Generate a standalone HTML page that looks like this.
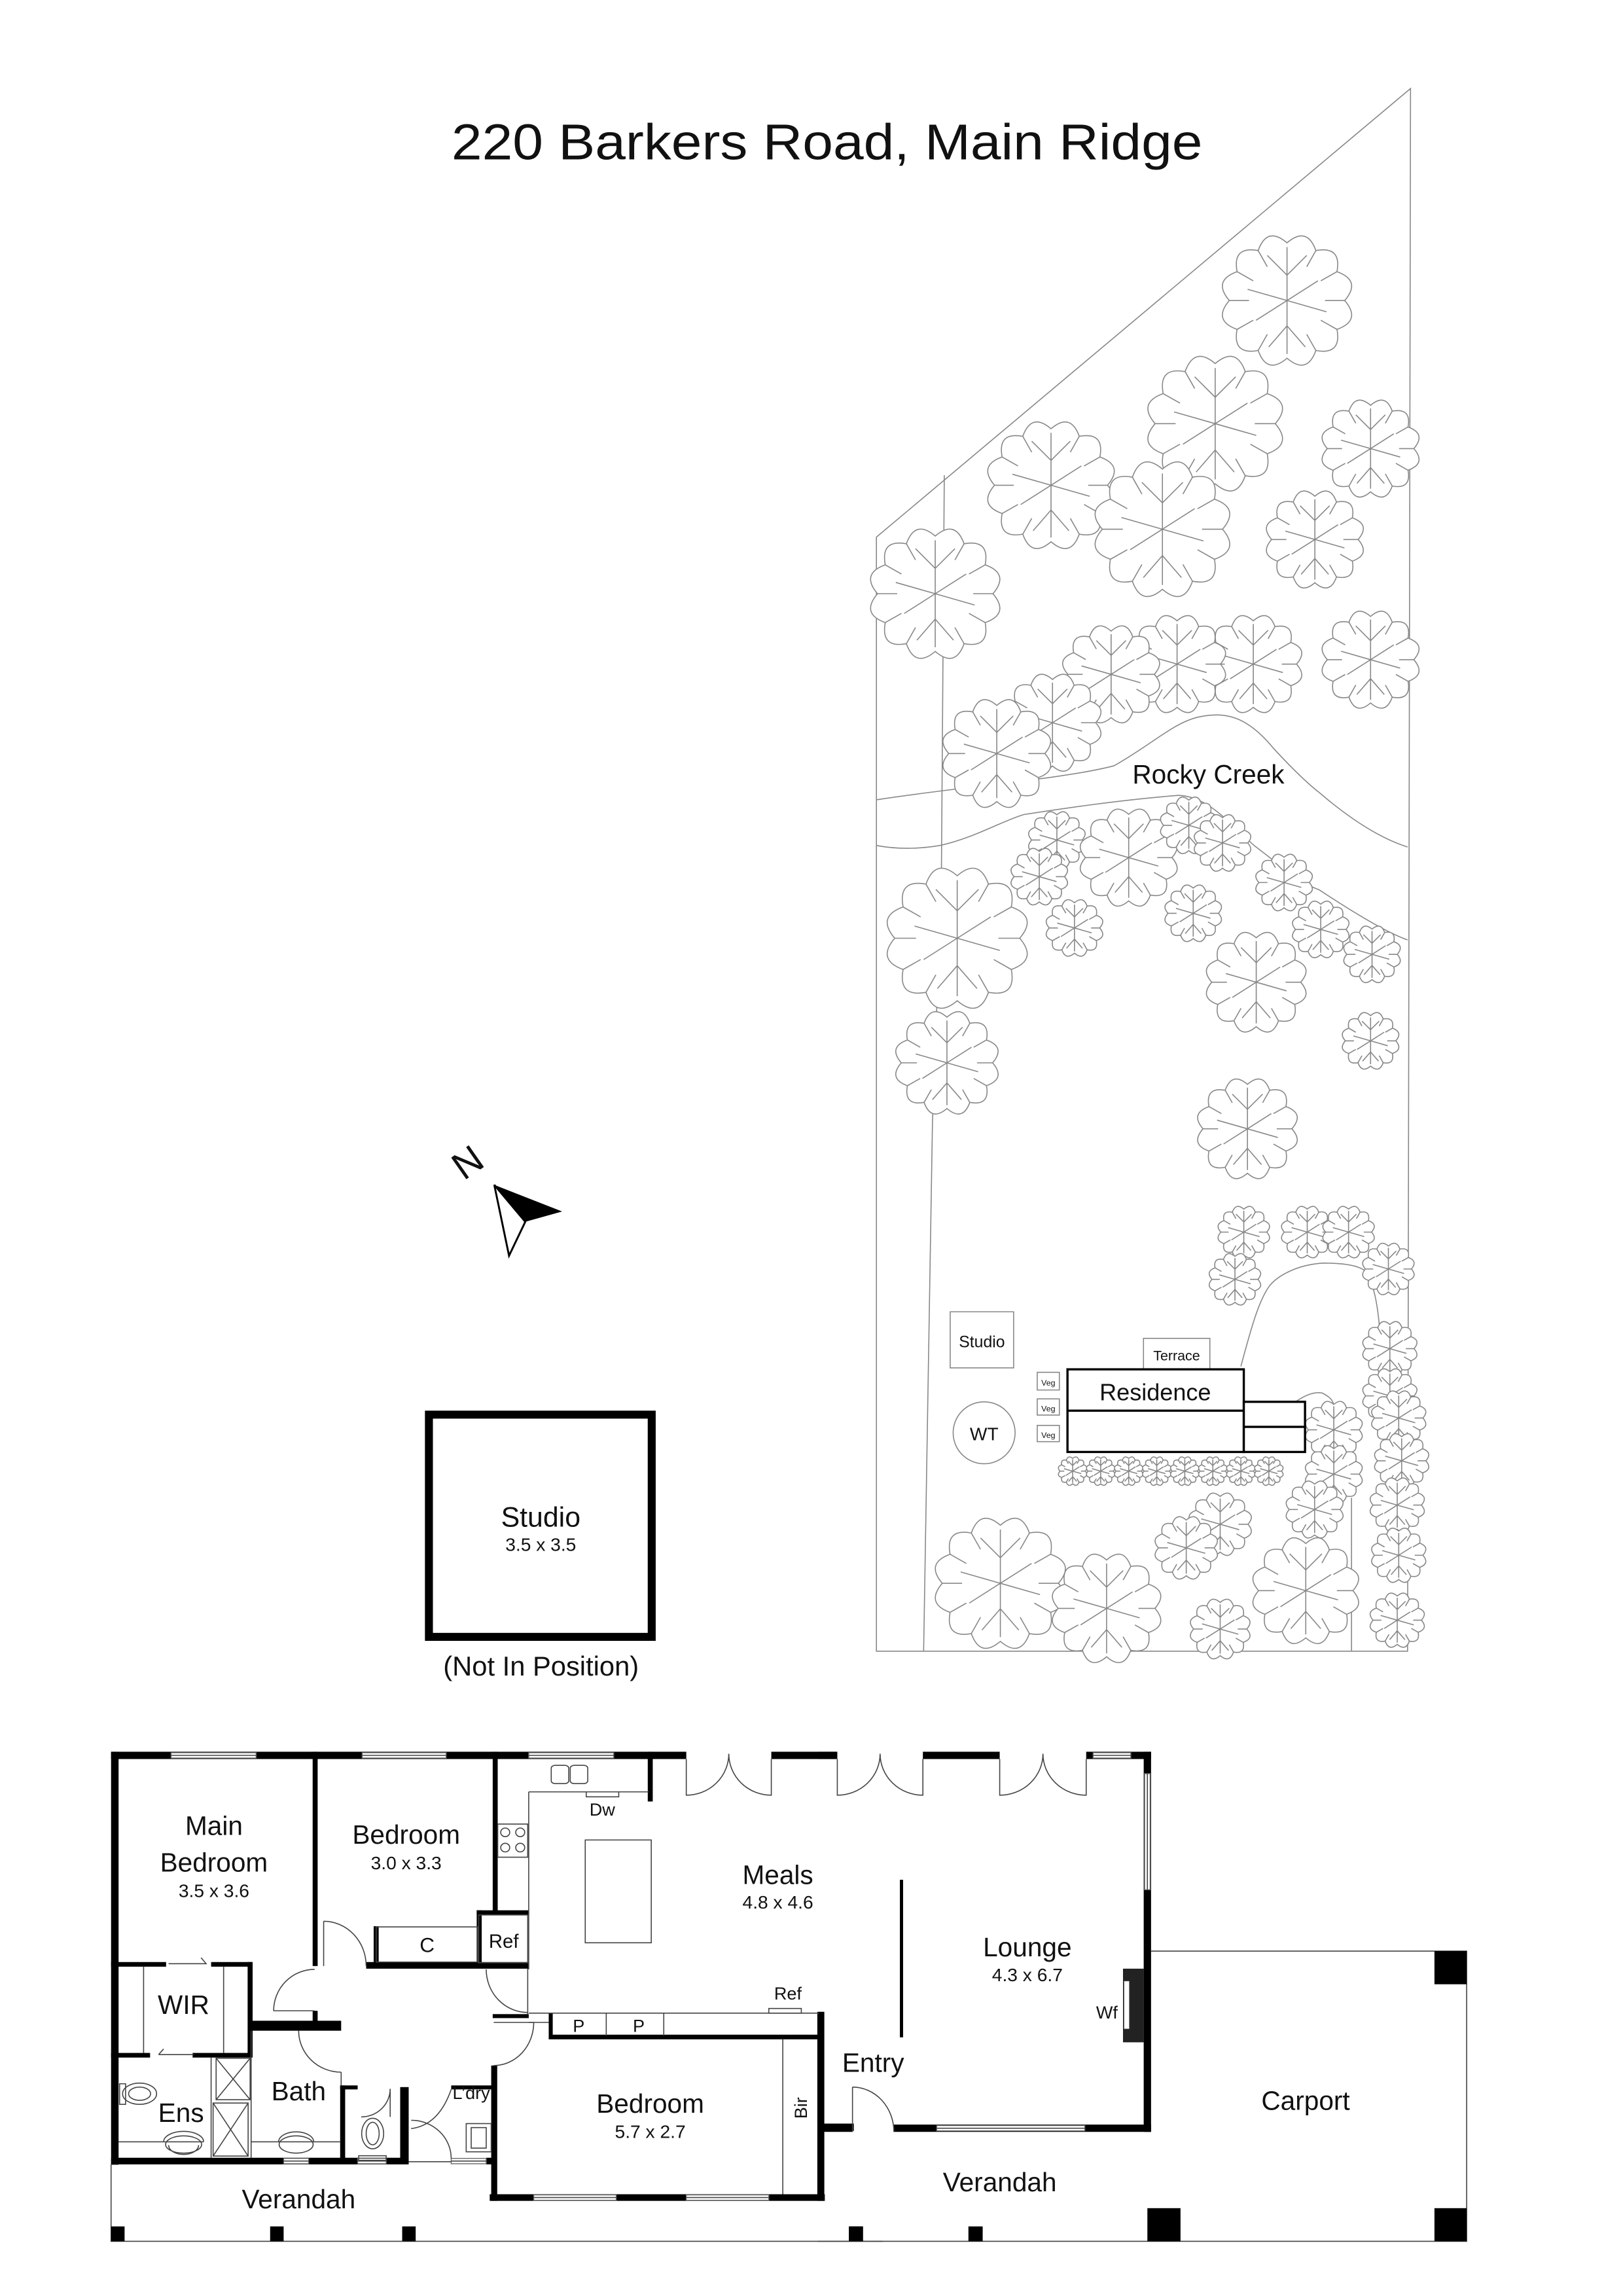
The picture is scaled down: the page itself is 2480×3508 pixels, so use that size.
<!DOCTYPE html>
<html><head><meta charset="utf-8"><style>
html,body{margin:0;padding:0;background:#fff;}
svg{display:block;}
text{font-family:"Liberation Sans",sans-serif;fill:#111;}
.t{fill:none;stroke:#444;stroke-width:1.6;vector-effect:non-scaling-stroke;}
.g{fill:none;stroke:#888;stroke-width:1.6;vector-effect:non-scaling-stroke;}
.w{fill:#fff;stroke:#666;stroke-width:1.4;vector-effect:non-scaling-stroke;}
.k{fill:#000;}
</style></head><body>
<svg width="2480" height="3508" viewBox="0 0 1100 1556" xmlns="http://www.w3.org/2000/svg">
<defs>
<g id="tr">
<path d="M41,0 Q53.1,14.2 35.5,20.5 Q38.9,38.9 20.5,35.5 Q14.2,53.1 0,41 Q-14.2,53.1 -20.5,35.5 Q-38.9,38.9 -35.5,20.5 Q-53.1,14.2 -41,0 Q-53.1,-14.2 -35.5,-20.5 Q-38.9,-38.9 -20.5,-35.5 Q-14.2,-53.1 0,-41 Q14.2,-53.1 20.5,-35.5 Q38.9,-38.9 35.5,-20.5 Q53.1,-14.2 41,0 Z" fill="#fff" stroke="#888" stroke-width="1.6" vector-effect="non-scaling-stroke"/>
<path d="M41,0 L27,0 M35.5,20.5 L24,14 M20.5,35.5 L14,24 M-20.5,35.5 L-14,24 M-35.5,20.5 L-24,14 M-41,0 L-27,0 M-35.5,-20.5 L-24,-14 M-20.5,-35.5 L-14,-24 M20.5,-35.5 L14,-24 M35.5,-20.5 L24,-14 M0,-38 L0,38 M0,0 L-28,-8 M0,0 L28,8 M0,-18 L-14,-32 M0,-18 L14,-32 M0,18 L-13,33 M0,18 L13,33 M0,0 L-22,14 M0,0 L22,-14" fill="none" stroke="#888" stroke-width="1.6" vector-effect="non-scaling-stroke"/>
</g>
</defs>

<!-- Title -->
<text x="306" y="108" font-size="34" textLength="509" lengthAdjust="spacingAndGlyphs">220 Barkers Road, Main Ridge</text>

<!-- Site boundary -->
<path class="g" d="M594,364 L956,60 L954,1119 L594,1119 Z"/>
<path class="g" d="M640,322 L638,600 L632,760 L626,1119"/>
<!-- creek -->
<path class="g" d="M594,542 C660,532 720,528 755,519 C780,505 795,490 812,486 C830,482 845,485 863,507 C875,520 885,530 894,537 C915,555 935,568 954,574"/>
<path class="g" d="M594,573 C610,576 625,575 637,573 C660,568 680,556 694,552 C720,548 760,542 799,539 C820,540 835,560 850,573 C870,588 880,598 894,603 C920,620 940,632 954,637"/>
<!-- driveway -->
<path class="g" d="M841,926 C848,900 853,882 860,872 C866,864 880,857 897,856 C912,856 922,858 926,862 C932,872 934,888 935,900"/>
<path class="g" d="M878,950 C884,946 890,943 896,944 C900,946 903,948 904,952"/>
<path class="g" d="M916,1015 L916,1119"/>

<!-- trees -->
<g transform="scale(0.9935)">
<use href="#tr" transform="translate(878,205) scale(0.96)"/>
<use href="#tr" transform="translate(935,306) scale(0.72)"/>
<use href="#tr" transform="translate(829,289) scale(1.0)"/>
<use href="#tr" transform="translate(717,331) scale(0.94)"/>
<use href="#tr" transform="translate(897,368) scale(0.72)"/>
<use href="#tr" transform="translate(793,361) scale(1.0)"/>
<use href="#tr" transform="translate(638,405) scale(0.96)"/>
<use href="#tr" transform="translate(935,450) scale(0.72)"/>
<use href="#tr" transform="translate(855,453) scale(0.72)"/>
<use href="#tr" transform="translate(803,453) scale(0.72)"/>
<use href="#tr" transform="translate(758,460) scale(0.72)"/>
<use href="#tr" transform="translate(718,493) scale(0.72)"/>
<use href="#tr" transform="translate(680,514) scale(0.8)"/>
<use href="#tr" transform="translate(721,573) scale(0.42)"/>
<use href="#tr" transform="translate(709,598) scale(0.42)"/>
<use href="#tr" transform="translate(770,585) scale(0.72)"/>
<use href="#tr" transform="translate(811,563) scale(0.42)"/>
<use href="#tr" transform="translate(834,575) scale(0.42)"/>
<use href="#tr" transform="translate(876,602) scale(0.42)"/>
<use href="#tr" transform="translate(901,634) scale(0.42)"/>
<use href="#tr" transform="translate(936,651) scale(0.42)"/>
<use href="#tr" transform="translate(733,633) scale(0.42)"/>
<use href="#tr" transform="translate(814,623) scale(0.42)"/>
<use href="#tr" transform="translate(653,640) scale(1.04)"/>
<use href="#tr" transform="translate(857,670) scale(0.74)"/>
<use href="#tr" transform="translate(935,710) scale(0.42)"/>
<use href="#tr" transform="translate(646,725) scale(0.76)"/>
<use href="#tr" transform="translate(851,770) scale(0.74)"/>
</g>
<use href="#tr" transform="translate(843,835) scale(0.38)"/>
<use href="#tr" transform="translate(886,835) scale(0.38)"/>
<use href="#tr" transform="translate(914,835) scale(0.38)"/>
<use href="#tr" transform="translate(941,860) scale(0.38)"/>
<use href="#tr" transform="translate(837,867) scale(0.38)"/>
<use href="#tr" transform="translate(942,914) scale(0.4)"/>
<use href="#tr" transform="translate(942,946) scale(0.4)"/>
<use href="#tr" transform="translate(948,961) scale(0.4)"/>
<use href="#tr" transform="translate(950,990) scale(0.4)"/>
<use href="#tr" transform="translate(947,1020) scale(0.4)"/>
<use href="#tr" transform="translate(948,1054) scale(0.4)"/>
<use href="#tr" transform="translate(947,1098) scale(0.4)"/>
<use href="#tr" transform="translate(904,969) scale(0.42)"/>
<use href="#tr" transform="translate(904,999) scale(0.42)"/>
<use href="#tr" transform="translate(891,1023) scale(0.42)"/>
<use href="#tr" transform="translate(827,1033) scale(0.46)"/>
<use href="#tr" transform="translate(804,1049) scale(0.46)"/>
<use href="#tr" transform="translate(827,1104) scale(0.44)"/>
<use href="#tr" transform="translate(885,1078) scale(0.78)"/>
<use href="#tr" transform="translate(678,1073) scale(0.96)"/>
<use href="#tr" transform="translate(750,1090) scale(0.8)"/>
<!-- hedge -->
<use href="#tr" transform="translate(727,997) scale(0.21)"/>
<use href="#tr" transform="translate(746,997) scale(0.21)"/>
<use href="#tr" transform="translate(765,997) scale(0.21)"/>
<use href="#tr" transform="translate(784,997) scale(0.21)"/>
<use href="#tr" transform="translate(803,997) scale(0.21)"/>
<use href="#tr" transform="translate(822,997) scale(0.21)"/>
<use href="#tr" transform="translate(841,997) scale(0.21)"/>
<use href="#tr" transform="translate(860,997) scale(0.21)"/>

<text x="819" y="531" font-size="18" text-anchor="middle">Rocky Creek</text>

<!-- site buildings -->
<rect x="644" y="889" width="43" height="38" class="g"/>
<text x="665.5" y="913" font-size="11" text-anchor="middle">Studio</text>
<rect x="775" y="907" width="45" height="21" class="g"/>
<text x="797.5" y="922" font-size="9.5" text-anchor="middle">Terrace</text>
<rect x="723.5" y="928" width="119.5" height="56" fill="#fff" stroke="#000" stroke-width="1.5"/>
<line x1="723.5" y1="956" x2="843" y2="956" stroke="#000" stroke-width="1.5"/>
<rect x="843" y="950" width="41.5" height="34" fill="#fff" stroke="#000" stroke-width="1.5"/>
<line x1="843" y1="967" x2="884.5" y2="967" stroke="#000" stroke-width="1.5"/>
<text x="783" y="949" font-size="16" text-anchor="middle">Residence</text>
<rect x="703" y="930" width="15" height="12" class="g"/>
<rect x="703" y="948" width="15" height="11" class="g"/>
<rect x="703" y="966" width="15" height="11" class="g"/>
<text x="710.5" y="939" font-size="5.5" text-anchor="middle">Veg</text>
<text x="710.5" y="956.5" font-size="5.5" text-anchor="middle">Veg</text>
<text x="710.5" y="974.5" font-size="5.5" text-anchor="middle">Veg</text>
<ellipse cx="667" cy="971" rx="21" ry="21" class="g"/>
<text x="667" y="976" font-size="12.5" text-anchor="middle">WT</text>

<!-- compass -->
<polygon points="335,803 381,821 356,828" fill="#000"/>
<polygon points="335,803 356,828 345,851" fill="#fff" stroke="#000" stroke-width="1.3" stroke-linejoin="miter"/>
<text x="0" y="0" font-size="26" transform="translate(322,795) rotate(-35)" text-anchor="middle">N</text>

<!-- Studio detached -->
<rect x="290.7" y="958.7" width="151" height="150.6" fill="none" stroke="#000" stroke-width="5.4"/>
<text x="366.5" y="1034.5" font-size="19" text-anchor="middle">Studio</text>
<text x="366.5" y="1051" font-size="12.5" text-anchor="middle">3.5 x 3.5</text>
<text x="366.7" y="1135.5" font-size="18.5" text-anchor="middle">(Not In Position)</text>

<!-- FLOOR PLAN part 1 (zoom1 coords) -->
<g transform="matrix(0.339 0 0 0.2248 66.8 1177.26)">
<!-- walls -->
<rect class="k" x="25" y="44" width="1150" height="22"/>
<rect class="k" x="1345" y="44" width="130" height="22"/>
<rect class="k" x="25" y="44" width="15" height="1245"/>
<rect class="k" x="25" y="1268" width="595" height="20"/>
<rect class="k" x="775" y="1268" width="20" height="20"/>
<rect class="k" x="428" y="44" width="10" height="646"/>
<rect class="k" x="428" y="825" width="10" height="35"/>
<rect class="k" x="305" y="855" width="180" height="30"/>
<rect class="k" x="788" y="44" width="10" height="480"/>
<rect class="k" x="756" y="522" width="104" height="14"/>
<rect class="k" x="756" y="522" width="10" height="160"/>
<rect class="k" x="535" y="678" width="325" height="20"/>
<rect class="k" x="550" y="570" width="10" height="110"/>
<rect class="k" x="1098" y="44" width="10" height="150"/>
<rect class="k" x="25" y="678" width="110" height="14"/>
<rect class="k" x="225" y="678" width="82" height="14"/>
<rect class="k" x="298" y="678" width="10" height="280"/>
<rect class="k" x="25" y="952" width="78" height="14"/>
<rect class="k" x="188" y="952" width="120" height="14"/>
<rect class="k" x="483" y="1050" width="10" height="235"/>
<rect class="k" x="483" y="1050" width="35" height="12"/>
<rect class="k" x="603" y="1055" width="17" height="230"/>
<rect class="k" x="705" y="1050" width="90" height="12"/>
<rect class="k" x="785" y="990" width="12" height="408"/>
<rect class="k" x="788" y="835" width="72" height="12"/>
<rect class="k" x="782" y="1378" width="670" height="20"/>
<rect class="k" x="1437" y="828" width="14" height="570"/>
<rect class="k" x="900" y="897" width="540" height="14"/>
<rect class="k" x="900" y="832" width="8" height="78"/>
<rect class="k" x="1440" y="1165" width="70" height="22"/>
<!-- windows -->
<rect class="w" x="145" y="47" width="170" height="16"/><line class="t" x1="145" y1="55" x2="315" y2="55"/>
<rect class="w" x="527" y="47" width="168" height="16"/><line class="t" x1="527" y1="55" x2="695" y2="55"/>
<rect class="w" x="860" y="47" width="170" height="16"/><line class="t" x1="860" y1="55" x2="1030" y2="55"/>
<rect class="w" x="370" y="1270" width="50" height="16"/><line class="t" x1="370" y1="1278" x2="420" y2="1278"/>
<rect class="w" x="518" y="1270" width="57" height="16"/><line class="t" x1="518" y1="1278" x2="575" y2="1278"/>
<rect class="w" x="705" y="1270" width="70" height="16"/><line class="t" x1="705" y1="1278" x2="775" y2="1278"/>
<rect class="w" x="870" y="1380" width="165" height="16"/><line class="t" x1="870" y1="1388" x2="1035" y2="1388"/>
<rect class="w" x="1175" y="1380" width="165" height="16"/><line class="t" x1="1175" y1="1388" x2="1340" y2="1388"/>
<line class="t" x1="620" y1="1280" x2="705" y2="1280"/>
<!-- doors -->
<path class="t" d="M1175,66 V175 A85 125 0 0 0 1260 50 M1345,66 V175 A85 125 0 0 1 1260 50"/>
<path class="t" d="M450,555 V690 M450,555 A85 135 0 0 1 535 690"/>
<path class="t" d="M350,825 H432 M350,825 A82 125 0 0 1 432 700"/>
<path class="t" d="M775,700 A83 130 0 0 0 858 830 M858,698 V835"/>
<path class="t" d="M400,885 A85 125 0 0 0 485 1010 M485,1010 V1050"/>
<path class="t" d="M870,860 A80 130 0 0 1 790 990 M790,860 H870"/>
<path class="t" d="M583,1060 A58 85 0 0 1 525 1145 M583,1060 V1145"/>
<path class="t" d="M625,1180 Q680,1170 705,1062 M625,1155 A80 115 0 0 1 705 1270"/>
<path class="t" d="M140,683 H215 L205,665 M120,957 H190 M120,957 L130,940"/>
<!-- kitchen -->
<path class="t" d="M860,165 H1100 M860,165 V700"/>
<rect class="t" x="905" y="85" width="35" height="55" rx="8"/>
<rect class="t" x="943" y="85" width="35" height="55" rx="8"/>
<rect class="t" x="975" y="165" width="65" height="15"/>
<rect class="t" x="798" y="262" width="60" height="100"/>
<ellipse class="t" cx="813" cy="287" rx="9" ry="13"/><ellipse class="t" cx="843" cy="287" rx="9" ry="13"/>
<ellipse class="t" cx="813" cy="333" rx="9" ry="13"/><ellipse class="t" cx="843" cy="333" rx="9" ry="13"/>
<rect class="t" x="973" y="310" width="132" height="310"/>
<rect class="t" x="555" y="572" width="203" height="106"/>
<rect class="t" x="760" y="536" width="98" height="144"/>
<!-- pantry -->
<path class="t" d="M860,832 H1440 M1015,832 V900 M1130,832 V900 M860,860 H900"/>
<rect class="t" x="1340" y="818" width="65" height="14"/>
<path class="t" d="M1368,910 V1378"/>
<!-- WIR -->
<path class="t" d="M90,692 V952 M250,692 V952"/>
<!-- ens/bath -->
<path class="t" d="M225,966 V1268 M305,885 V1268 M40,1220 H210 M305,1220 H483"/>
<rect class="t" x="235" y="968" width="68" height="125"/>
<path class="t" d="M235,968 L303,1093 M303,968 L235,1093"/>
<rect class="t" x="229" y="1103" width="70" height="160"/>
<path class="t" d="M229,1103 L299,1263 M299,1103 L229,1263"/>
<rect class="t" x="42" y="1045" width="12" height="62"/>
<ellipse class="t" cx="82" cy="1075" rx="34" ry="32"/>
<ellipse class="t" cx="82" cy="1075" rx="22" ry="20"/>
<path class="t" d="M130,1220 A38 30 0 0 1 210 1220 M140,1230 A30 28 0 0 0 200 1230"/>
<ellipse class="t" cx="170" cy="1228" rx="36" ry="26"/>
<ellipse class="t" cx="395" cy="1228" rx="34" ry="26"/>
<path class="t" d="M360,1220 A35 30 0 0 1 430 1220"/>
<ellipse class="t" cx="548" cy="1195" rx="22" ry="46"/>
<ellipse class="t" cx="548" cy="1195" rx="13" ry="34"/>
<rect class="t" x="520" y="1262" width="55" height="14"/>
<rect class="t" x="735" y="1165" width="50" height="85"/>
<rect class="t" x="745" y="1177" width="30" height="62"/>
<!-- verandah -->
<path class="t" d="M25,1288 V1520 H1568"/>
<rect class="k" x="25" y="1475" width="27" height="45"/>
<rect class="k" x="343" y="1475" width="27" height="45"/>
<rect class="k" x="607" y="1475" width="27" height="45"/>
<rect class="k" x="1500" y="1475" width="28" height="45"/>
</g>

<!-- FLOOR PLAN part 2 (zoom2 coords) -->
<g transform="matrix(0.3118 0 0 0.2248 554.4 1177.26)">
<rect class="k" x="0" y="44" width="42" height="22"/>
<rect class="k" x="228" y="44" width="167" height="22"/>
<rect class="k" x="583" y="44" width="141" height="22"/>
<rect class="k" x="708" y="44" width="16" height="1146"/>
<rect class="w" x="598" y="47" width="82" height="16"/><line class="t" x1="598" y1="55" x2="680" y2="55"/>
<rect class="w" x="710" y="110" width="12" height="350"/><line class="t" x1="716" y1="110" x2="716" y2="460"/>
<rect x="663" y="698" width="45" height="222" fill="#222"/>
<rect x="665" y="735" width="12" height="145" fill="#fff" stroke="#444" stroke-width="1" vector-effect="non-scaling-stroke"/>
<rect class="k" x="165" y="1168" width="559" height="22"/>
<rect class="k" x="0" y="1168" width="75" height="22"/>
<rect class="w" x="258" y="1171" width="322" height="16"/><line class="t" x1="258" y1="1179" x2="580" y2="1179"/>
<rect class="k" x="178" y="430" width="7" height="475"/>
<path class="t" d="M42,66 V175 A93 125 0 0 0 135 50 M228,66 V175 A93 125 0 0 1 135 50"/>
<path class="t" d="M395,66 V175 A94 125 0 0 0 489 50 M583,66 V175 A94 125 0 0 1 489 50"/>
<path class="t" d="M75,1055 V1190 M75,1055 A90 135 0 0 1 165 1190"/>
<path class="t" d="M724,645 H1410 V1520 H0"/>
<rect class="k" x="1340" y="645" width="70" height="100"/>
<rect class="k" x="1340" y="1420" width="70" height="100"/>
<rect class="k" x="716" y="1420" width="72" height="100"/>
<rect class="k" x="68" y="1475" width="30" height="45"/>
<rect class="k" x="327" y="1475" width="31" height="45"/>
</g>

<!-- floor labels -->
<g font-size="18" text-anchor="middle">
<text x="145" y="1243.6">Main</text>
<text x="145" y="1268.3">Bedroom</text>
<text x="275.3" y="1249.6">Bedroom</text>
<text x="527.2" y="1276.8">Meals</text>
<text x="696.3" y="1325.9">Lounge</text>
<text x="124.4" y="1364.9">WIR</text>
<text x="122.7" y="1438">Ens</text>
<text x="202.4" y="1423.4">Bath</text>
<text x="440.7" y="1431.9">Bedroom</text>
<text x="591.8" y="1404">Entry</text>
<text x="202.4" y="1496.5">Verandah</text>
<text x="677.6" y="1485">Verandah</text>
<text x="884.9" y="1429.8">Carport</text>
</g>
<g font-size="12.5" text-anchor="middle">
<text x="145" y="1285.6">3.5 x 3.6</text>
<text x="275.3" y="1266.7">3.0 x 3.3</text>
<text x="527.2" y="1293.5">4.8 x 4.6</text>
<text x="696.3" y="1342.6">4.3 x 6.7</text>
<text x="440.7" y="1448.8">5.7 x 2.7</text>
<text x="289.5" y="1323" font-size="14">C</text>
<text x="341.4" y="1320" font-size="13">Ref</text>
<text x="408.2" y="1230.5" font-size="12">Dw</text>
<text x="534" y="1355" font-size="12">Ref</text>
<text x="392.2" y="1377" font-size="12">P</text>
<text x="432.9" y="1377" font-size="12">P</text>
<text x="319.4" y="1422.5" font-size="12">L’dry</text>
<text x="750.2" y="1368" font-size="12">Wf</text>
<text x="0" y="0" font-size="12" transform="translate(547,1428.6) rotate(-90)">Bir</text>
</g>
</svg>
</body></html>
